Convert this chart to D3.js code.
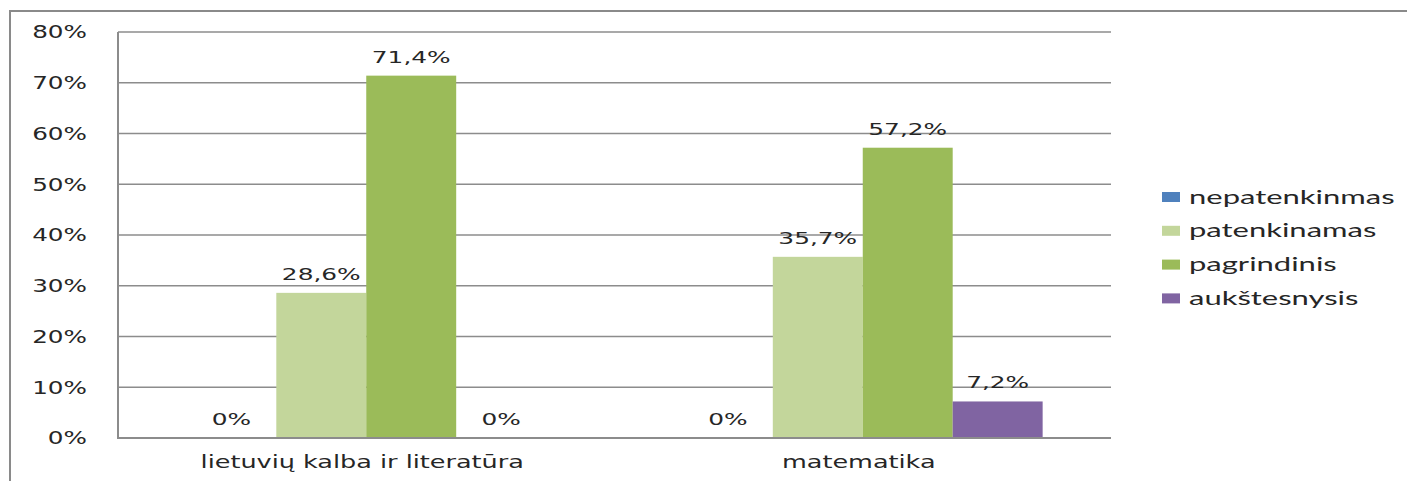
<!DOCTYPE html>
<html>
<head>
<meta charset="utf-8">
<script src="https://cdn.jsdelivr.net/npm/d3@7"></script>
<style>
  body { margin: 0; background: #fff; }
  text { fill: #262626; }
</style>
</head>
<body>
<div id="chart"></div>
<script>
// data
const categories = ["lietuvių kalba ir literatūra", "matematika"];
const series = ["nepatenkinmas", "patenkinamas", "pagrindinis", "aukštesnysis"];
const colors = ["#4F81BD", "#C3D69B", "#9BBB59", "#8064A2"];
const values = [
  [0, 28.6, 71.4, 0],     // lietuvių kalba ir literatūra
  [0, 35.7, 57.2, 7.2]    // matematika
];
const yTicks = [0, 10, 20, 30, 40, 50, 60, 70, 80];

const W = 1407, H = 481;
const svg = d3.select("#chart").append("svg")
  .attr("width", W).attr("height", H);

// the picture is stretched sideways, so text gets widened too
function widen(sel, k) {
  sel.each(function() {
    const w = this.getComputedTextLength();
    d3.select(this).attr("textLength", w * k).attr("lengthAdjust", "spacingAndGlyphs");
  });
}

// outer frame (only top and left are visible)
svg.append("path")
  .attr("d", "M10,481 V11 H1407")
  .attr("fill", "none").attr("stroke", "#8a8a8a").attr("stroke-width", 2);

const y = d3.scaleLinear().domain([0, 80]).range([438, 32]);
const x0 = d3.scaleBand().domain(categories).range([118, 1111]);
const x1 = d3.scaleBand().domain(series).range([0, x0.bandwidth()]).paddingOuter(0.76);

// gridlines
svg.append("g").selectAll("line")
  .data(yTicks.slice(1))
  .enter().append("line")
  .attr("x1", 118).attr("x2", 1111)
  .attr("y1", d => y(d)).attr("y2", d => y(d))
  .attr("stroke", "#8c8c8c").attr("stroke-width", 1.5);

// y axis labels
const yl = svg.append("g").selectAll("text")
  .data(yTicks)
  .enter().append("text")
  .attr("x", 87).attr("y", d => y(d)).attr("dy", "0.37em")
  .attr("text-anchor", "end")
  .style("font-family", "DejaVu Sans").style("font-size", "17px")
  .text(d => d + "%");
widen(yl, 1.45);

// bars
const groups = svg.append("g").selectAll("g")
  .data(categories)
  .enter().append("g")
  .attr("transform", d => `translate(${x0(d)},0)`);

groups.selectAll("rect")
  .data((d, i) => values[i].map((v, j) => ({ s: series[j], v: v, c: colors[j] })))
  .enter().append("rect")
  .attr("x", d => x1(d.s))
  .attr("width", x1.bandwidth())
  .attr("y", d => y(d.v))
  .attr("height", d => y(0) - y(d.v))
  .attr("fill", d => d.c);

const dl = groups.selectAll("text")
  .data((d, i) => values[i].map((v, j) => ({ s: series[j], v: v })))
  .enter().append("text")
  .attr("x", d => x1(d.s) + x1.bandwidth() / 2)
  .attr("y", d => y(d.v) - 13)
  .attr("text-anchor", "middle")
  .style("font-family", "DejaVu Sans").style("font-size", "16px")
  .text(d => d.v === 0 ? "0%" : d.v.toFixed(1).replace(".", ",") + "%");
widen(dl, 1.55);

// axis lines
svg.append("path")
  .attr("d", "M118,32 V438 H1111")
  .attr("fill", "none").attr("stroke", "#8c8c8c").attr("stroke-width", 2);

// category labels
const cl = svg.append("g").selectAll("text")
  .data(categories)
  .enter().append("text")
  .attr("x", d => x0(d) + x0.bandwidth() / 2 - 4)
  .attr("y", 468)
  .attr("text-anchor", "middle")
  .style("font-family", "DejaVu Sans").style("font-size", "17px")
  .text(d => d);
widen(cl, 1.5);

// legend
const lg = svg.append("g").selectAll("g")
  .data(series)
  .enter().append("g")
  .attr("transform", (d, i) => `translate(1162,${197 + i * 33.8})`);

lg.append("rect")
  .attr("x", 0).attr("y", -5)
  .attr("width", 18).attr("height", 10)
  .attr("fill", (d, i) => colors[i]);

const lt = lg.append("text")
  .attr("x", 27).attr("dy", "0.35em")
  .style("font-family", "Lato").style("font-size", "19px")
  .text(d => d);
widen(lt, 1.63);
</script>
</body>
</html>
